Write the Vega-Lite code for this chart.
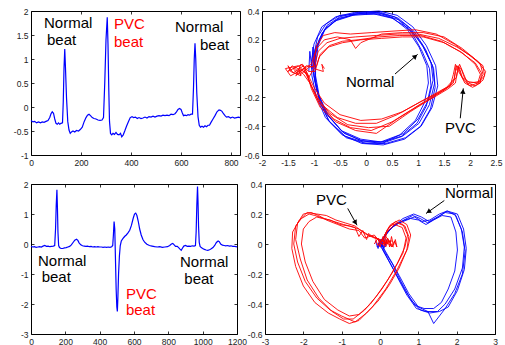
{
"$schema": "https://vega.github.io/schema/vega-lite/v6.json",
"padding": {"left": 12, "top": 6, "right": 0, "bottom": 0},
"config": {
 "view": {"stroke": "#000000", "strokeWidth": 1},
 "axis": {"grid": false, "domain": false, "tickSize": -3, "tickColor": "#000000", "tickWidth": 0.8, "labelFont": "Liberation Sans", "labelFontSize": 8.5, "labelColor": "#222222", "labelFlush": false, "labelOverlap": false},
 "axisLeft": {"labelPadding": 6},
 "axisBottom": {"labelPadding": 6},
 "text": {"font": "Liberation Sans", "fontSize": 15}
},
"datasets": {
 "ecg1": [{"x":0,"y":-0.28},{"x":8,"y":-0.31},{"x":15,"y":-0.3},{"x":22,"y":-0.33},{"x":30,"y":-0.31},{"x":38,"y":-0.33},{"x":45,"y":-0.31},{"x":52,"y":-0.32},{"x":60,"y":-0.3},{"x":68,"y":-0.28},{"x":75,"y":-0.22},{"x":80,"y":-0.14},{"x":85,"y":-0.1},{"x":90,"y":-0.13},{"x":95,"y":-0.25},{"x":100,"y":-0.34},{"x":105,"y":-0.36},{"x":110,"y":-0.33},{"x":115,"y":-0.36},{"x":120,"y":-0.34},{"x":126,"y":-0.33},{"x":129,"y":0.1},{"x":132,"y":0.8},{"x":135,"y":1.21},{"x":138,"y":0.8},{"x":142,"y":0.2},{"x":147,"y":-0.3},{"x":152,"y":-0.48},{"x":157,"y":-0.55},{"x":162,"y":-0.52},{"x":168,"y":-0.5},{"x":175,"y":-0.52},{"x":182,"y":-0.49},{"x":190,"y":-0.5},{"x":197,"y":-0.47},{"x":205,"y":-0.42},{"x":213,"y":-0.3},{"x":220,"y":-0.22},{"x":226,"y":-0.17},{"x":232,"y":-0.15},{"x":238,"y":-0.18},{"x":245,"y":-0.22},{"x":252,"y":-0.24},{"x":260,"y":-0.25},{"x":268,"y":-0.27},{"x":276,"y":-0.28},{"x":284,"y":-0.27},{"x":290,"y":-0.22},{"x":295,"y":0.5},{"x":300,"y":1.4},{"x":305,"y":1.87},{"x":308,"y":1.3},{"x":311,"y":0.4},{"x":314,"y":-0.3},{"x":318,"y":-0.55},{"x":323,"y":-0.58},{"x":328,"y":-0.55},{"x":334,"y":-0.57},{"x":340,"y":-0.53},{"x":346,"y":-0.57},{"x":352,"y":-0.58},{"x":358,"y":-0.55},{"x":363,"y":-0.62},{"x":369,"y":-0.58},{"x":375,"y":-0.5},{"x":382,"y":-0.4},{"x":390,"y":-0.3},{"x":397,"y":-0.22},{"x":404,"y":-0.2},{"x":410,"y":-0.22},{"x":418,"y":-0.21},{"x":425,"y":-0.24},{"x":432,"y":-0.22},{"x":440,"y":-0.24},{"x":448,"y":-0.23},{"x":456,"y":-0.21},{"x":464,"y":-0.23},{"x":472,"y":-0.2},{"x":480,"y":-0.21},{"x":488,"y":-0.19},{"x":496,"y":-0.21},{"x":504,"y":-0.19},{"x":512,"y":-0.18},{"x":520,"y":-0.19},{"x":528,"y":-0.17},{"x":536,"y":-0.18},{"x":544,"y":-0.17},{"x":552,"y":-0.18},{"x":560,"y":-0.15},{"x":568,"y":-0.16},{"x":576,"y":-0.14},{"x":582,"y":-0.1},{"x":588,"y":-0.05},{"x":594,"y":-0.03},{"x":600,"y":-0.05},{"x":605,"y":-0.12},{"x":610,"y":-0.18},{"x":616,"y":-0.17},{"x":622,"y":-0.18},{"x":628,"y":-0.16},{"x":634,"y":-0.17},{"x":640,"y":-0.15},{"x":646,"y":-0.15},{"x":650,"y":0.4},{"x":653,"y":1.0},{"x":656,"y":1.33},{"x":659,"y":1.0},{"x":663,"y":0.3},{"x":668,"y":-0.2},{"x":673,"y":-0.38},{"x":678,"y":-0.42},{"x":684,"y":-0.4},{"x":690,"y":-0.42},{"x":696,"y":-0.39},{"x":702,"y":-0.41},{"x":708,"y":-0.38},{"x":714,"y":-0.38},{"x":720,"y":-0.32},{"x":728,"y":-0.25},{"x":736,"y":-0.18},{"x":744,"y":-0.1},{"x":752,"y":-0.06},{"x":758,"y":-0.07},{"x":764,"y":-0.09},{"x":770,"y":-0.14},{"x":776,"y":-0.18},{"x":782,"y":-0.21},{"x":790,"y":-0.2},{"x":798,"y":-0.23},{"x":806,"y":-0.21},{"x":814,"y":-0.23},{"x":822,"y":-0.22},{"x":830,"y":-0.21},{"x":836,"y":-0.22}],
 "ecg2": [{"x":0,"y":-0.08},{"x":10,"y":-0.1},{"x":20,"y":-0.09},{"x":30,"y":-0.11},{"x":40,"y":-0.1},{"x":50,"y":-0.09},{"x":60,"y":-0.1},{"x":70,"y":-0.07},{"x":80,"y":-0.05},{"x":90,"y":-0.08},{"x":100,"y":-0.07},{"x":110,"y":-0.09},{"x":120,"y":-0.08},{"x":130,"y":-0.07},{"x":138,"y":-0.05},{"x":143,"y":0.5},{"x":147,"y":1.3},{"x":151,"y":1.81},{"x":154,"y":1.2},{"x":157,"y":0.4},{"x":161,"y":-0.05},{"x":166,"y":-0.12},{"x":175,"y":-0.15},{"x":185,"y":-0.15},{"x":195,"y":-0.13},{"x":205,"y":-0.12},{"x":215,"y":-0.1},{"x":225,"y":-0.08},{"x":235,"y":-0.03},{"x":245,"y":0.05},{"x":255,"y":0.13},{"x":265,"y":0.16},{"x":273,"y":0.12},{"x":280,"y":0.04},{"x":290,"y":-0.03},{"x":300,"y":-0.06},{"x":310,"y":-0.07},{"x":320,"y":-0.08},{"x":330,"y":-0.07},{"x":340,"y":-0.09},{"x":350,"y":-0.08},{"x":360,"y":-0.1},{"x":370,"y":-0.09},{"x":380,"y":-0.1},{"x":390,"y":-0.09},{"x":400,"y":-0.1},{"x":410,"y":-0.1},{"x":420,"y":-0.11},{"x":430,"y":-0.1},{"x":440,"y":-0.11},{"x":450,"y":-0.1},{"x":460,"y":-0.11},{"x":470,"y":-0.09},{"x":476,"y":-0.05},{"x":480,"y":0.3},{"x":484,"y":0.75},{"x":488,"y":0.5},{"x":492,"y":-0.5},{"x":496,"y":-1.5},{"x":500,"y":-2.1},{"x":503,"y":-2.25},{"x":506,"y":-1.8},{"x":510,"y":-1.0},{"x":515,"y":-0.4},{"x":520,"y":-0.05},{"x":526,"y":0.1},{"x":535,"y":0.18},{"x":545,"y":0.25},{"x":555,"y":0.3},{"x":565,"y":0.37},{"x":575,"y":0.46},{"x":585,"y":0.62},{"x":595,"y":0.85},{"x":603,"y":1.0},{"x":610,"y":1.03},{"x":617,"y":0.95},{"x":625,"y":0.75},{"x":633,"y":0.5},{"x":642,"y":0.3},{"x":652,"y":0.15},{"x":662,"y":0.06},{"x":675,"y":-0.01},{"x":690,"y":-0.05},{"x":705,"y":-0.07},{"x":720,"y":-0.09},{"x":735,"y":-0.1},{"x":750,"y":-0.09},{"x":765,"y":-0.11},{"x":780,"y":-0.1},{"x":795,"y":-0.09},{"x":808,"y":-0.05},{"x":818,"y":0.0},{"x":826,"y":0.02},{"x":834,"y":-0.03},{"x":842,"y":-0.08},{"x":852,"y":-0.08},{"x":860,"y":-0.12},{"x":868,"y":-0.17},{"x":875,"y":-0.21},{"x":882,"y":-0.14},{"x":890,"y":-0.07},{"x":900,"y":-0.05},{"x":910,"y":-0.08},{"x":920,"y":-0.07},{"x":930,"y":-0.08},{"x":940,"y":-0.06},{"x":950,"y":-0.07},{"x":958,"y":-0.05},{"x":962,"y":0.4},{"x":966,"y":1.3},{"x":970,"y":1.92},{"x":973,"y":1.4},{"x":976,"y":0.6},{"x":980,"y":0.05},{"x":985,"y":-0.08},{"x":992,"y":-0.12},{"x":1000,"y":-0.15},{"x":1010,"y":-0.18},{"x":1020,"y":-0.2},{"x":1030,"y":-0.21},{"x":1040,"y":-0.19},{"x":1050,"y":-0.16},{"x":1060,"y":-0.12},{"x":1070,"y":-0.05},{"x":1080,"y":0.05},{"x":1090,"y":0.1},{"x":1097,"y":0.08},{"x":1105,"y":0.0},{"x":1115,"y":-0.04},{"x":1125,"y":-0.05},{"x":1135,"y":-0.06},{"x":1145,"y":-0.05},{"x":1155,"y":-0.07},{"x":1165,"y":-0.06},{"x":1175,"y":-0.08},{"x":1185,"y":-0.08},{"x":1195,"y":-0.09},{"x":1200,"y":-0.1}],
 "pp1b": [
  {"k":"b0","x":-1.0,"y":0.02},{"k":"b0","x":-0.95,"y":0.15},{"k":"b0","x":-0.8,"y":0.27},{"k":"b0","x":-0.55,"y":0.34},{"k":"b0","x":-0.2,"y":0.38},{"k":"b0","x":0.2,"y":0.39},{"k":"b0","x":0.55,"y":0.36},{"k":"b0","x":0.85,"y":0.28},{"k":"b0","x":1.1,"y":0.15},{"k":"b0","x":1.28,"y":0.02},{"k":"b0","x":1.32,"y":-0.1},{"k":"b0","x":1.22,"y":-0.25},{"k":"b0","x":1.02,"y":-0.38},{"k":"b0","x":0.7,"y":-0.47},{"k":"b0","x":0.3,"y":-0.52},{"k":"b0","x":-0.1,"y":-0.5},{"k":"b0","x":-0.45,"y":-0.44},{"k":"b0","x":-0.75,"y":-0.32},{"k":"b0","x":-0.92,"y":-0.18},{"k":"b0","x":-1.0,"y":-0.05},{"k":"b0","x":-1.0,"y":0.02},
  {"k":"b1","x":-0.97,"y":0.03},{"k":"b1","x":-0.92,"y":0.16},{"k":"b1","x":-0.78,"y":0.28},{"k":"b1","x":-0.52,"y":0.35},{"k":"b1","x":-0.15,"y":0.38},{"k":"b1","x":0.22,"y":0.38},{"k":"b1","x":0.52,"y":0.35},{"k":"b1","x":0.8,"y":0.27},{"k":"b1","x":1.02,"y":0.15},{"k":"b1","x":1.17,"y":0.02},{"k":"b1","x":1.2,"y":-0.1},{"k":"b1","x":1.12,"y":-0.24},{"k":"b1","x":0.95,"y":-0.36},{"k":"b1","x":0.65,"y":-0.46},{"k":"b1","x":0.28,"y":-0.51},{"k":"b1","x":-0.08,"y":-0.5},{"k":"b1","x":-0.42,"y":-0.45},{"k":"b1","x":-0.72,"y":-0.33},{"k":"b1","x":-0.9,"y":-0.19},{"k":"b1","x":-0.97,"y":-0.05},{"k":"b1","x":-0.97,"y":0.03},
  {"k":"b2","x":-1.05,"y":0.05},{"k":"b2","x":-1.0,"y":0.17},{"k":"b2","x":-0.85,"y":0.29},{"k":"b2","x":-0.58,"y":0.36},{"k":"b2","x":-0.22,"y":0.39},{"k":"b2","x":0.25,"y":0.4},{"k":"b2","x":0.6,"y":0.37},{"k":"b2","x":0.9,"y":0.29},{"k":"b2","x":1.16,"y":0.16},{"k":"b2","x":1.34,"y":0.02},{"k":"b2","x":1.38,"y":-0.12},{"k":"b2","x":1.27,"y":-0.27},{"k":"b2","x":1.06,"y":-0.4},{"k":"b2","x":0.74,"y":-0.49},{"k":"b2","x":0.33,"y":-0.53},{"k":"b2","x":-0.08,"y":-0.52},{"k":"b2","x":-0.46,"y":-0.46},{"k":"b2","x":-0.78,"y":-0.34},{"k":"b2","x":-0.96,"y":-0.19},{"k":"b2","x":-1.04,"y":-0.05},{"k":"b2","x":-1.05,"y":0.05},
  {"k":"b3","x":-1.02,"y":0.0},{"k":"b3","x":-0.98,"y":0.13},{"k":"b3","x":-0.84,"y":0.25},{"k":"b3","x":-0.6,"y":0.33},{"k":"b3","x":-0.25,"y":0.37},{"k":"b3","x":0.15,"y":0.38},{"k":"b3","x":0.5,"y":0.35},{"k":"b3","x":0.82,"y":0.28},{"k":"b3","x":1.08,"y":0.17},{"k":"b3","x":1.25,"y":0.04},{"k":"b3","x":1.29,"y":-0.08},{"k":"b3","x":1.2,"y":-0.22},{"k":"b3","x":1.0,"y":-0.35},{"k":"b3","x":0.72,"y":-0.45},{"k":"b3","x":0.35,"y":-0.51},{"k":"b3","x":-0.05,"y":-0.51},{"k":"b3","x":-0.4,"y":-0.47},{"k":"b3","x":-0.72,"y":-0.36},{"k":"b3","x":-0.9,"y":-0.22},{"k":"b3","x":-0.99,"y":-0.08},{"k":"b3","x":-1.02,"y":0.0},
  {"k":"b4","x":-0.98,"y":0.08},{"k":"b4","x":-0.9,"y":0.2},{"k":"b4","x":-0.75,"y":0.3},{"k":"b4","x":-0.5,"y":0.36},{"k":"b4","x":-0.15,"y":0.39},{"k":"b4","x":0.28,"y":0.39},{"k":"b4","x":0.62,"y":0.35},{"k":"b4","x":0.92,"y":0.26},{"k":"b4","x":1.15,"y":0.13},{"k":"b4","x":1.3,"y":0.0},{"k":"b4","x":1.33,"y":-0.13},{"k":"b4","x":1.24,"y":-0.28},{"k":"b4","x":1.05,"y":-0.4},{"k":"b4","x":0.76,"y":-0.48},{"k":"b4","x":0.38,"y":-0.52},{"k":"b4","x":0.0,"y":-0.52},{"k":"b4","x":-0.38,"y":-0.48},{"k":"b4","x":-0.7,"y":-0.37},{"k":"b4","x":-0.88,"y":-0.24},{"k":"b4","x":-0.97,"y":-0.08},{"k":"b4","x":-0.98,"y":0.08},
  {"k":"b5","x":-1.0,"y":0.1},{"k":"b5","x":-0.93,"y":0.22},{"k":"b5","x":-0.77,"y":0.31},{"k":"b5","x":-0.5,"y":0.37},{"k":"b5","x":-0.1,"y":0.38},{"k":"b5","x":0.3,"y":0.38},{"k":"b5","x":0.62,"y":0.34},{"k":"b5","x":0.88,"y":0.25},{"k":"b5","x":1.08,"y":0.12},{"k":"b5","x":1.22,"y":0.0},{"k":"b5","x":1.25,"y":-0.12},{"k":"b5","x":1.16,"y":-0.26},{"k":"b5","x":0.98,"y":-0.38},{"k":"b5","x":0.68,"y":-0.47},{"k":"b5","x":0.3,"y":-0.51},{"k":"b5","x":-0.1,"y":-0.49},{"k":"b5","x":-0.48,"y":-0.43},{"k":"b5","x":-0.78,"y":-0.3},{"k":"b5","x":-0.95,"y":-0.15},{"k":"b5","x":-1.02,"y":0.0},{"k":"b5","x":-1.0,"y":0.1},
  {"k":"bj","x":-1.1,"y":-0.02},{"k":"bj","x":-1.08,"y":0.12},{"k":"bj","x":-1.04,"y":0.0},{"k":"bj","x":-1.02,"y":0.15},{"k":"bj","x":-0.99,"y":0.02},{"k":"bj","x":-0.97,"y":0.13}
 ],
 "pp1r": [
  {"k":"r0","x":-0.8,"y":0.0},{"k":"r0","x":-0.85,"y":0.03},{"k":"r0","x":-0.82,"y":-0.02},{"k":"r0","x":-1.0,"y":0.0},{"k":"r0","x":-0.92,"y":0.12},{"k":"r0","x":-0.75,"y":0.18},{"k":"r0","x":-0.5,"y":0.21},{"k":"r0","x":-0.2,"y":0.22},{"k":"r0","x":0.2,"y":0.23},{"k":"r0","x":0.6,"y":0.24},{"k":"r0","x":1.0,"y":0.24},{"k":"r0","x":1.4,"y":0.21},{"k":"r0","x":1.75,"y":0.15},{"k":"r0","x":2.05,"y":0.08},{"k":"r0","x":2.25,"y":0.02},{"k":"r0","x":2.28,"y":-0.05},{"k":"r0","x":2.15,"y":-0.1},{"k":"r0","x":1.95,"y":-0.09},{"k":"r0","x":1.85,"y":-0.06},{"k":"r0","x":1.8,"y":0.0},{"k":"r0","x":1.73,"y":0.02},{"k":"r0","x":1.7,"y":-0.07},{"k":"r0","x":1.55,"y":-0.13},{"k":"r0","x":1.3,"y":-0.18},{"k":"r0","x":0.95,"y":-0.25},{"k":"r0","x":0.6,"y":-0.32},{"k":"r0","x":0.2,"y":-0.38},{"k":"r0","x":-0.2,"y":-0.38},{"k":"r0","x":-0.55,"y":-0.34},{"k":"r0","x":-0.85,"y":-0.25},{"k":"r0","x":-1.05,"y":-0.12},{"k":"r0","x":-1.15,"y":-0.03},{"k":"r0","x":-1.3,"y":0.0},{"k":"r0","x":-1.25,"y":-0.05},{"k":"r0","x":-1.45,"y":-0.02},{"k":"r0","x":-1.5,"y":0.02},{"k":"r0","x":-1.4,"y":-0.03},{"k":"r0","x":-1.2,"y":0.02},{"k":"r0","x":-1.1,"y":-0.06},{"k":"r0","x":-1.0,"y":0.0},
  {"k":"r1","x":-0.95,"y":0.02},{"k":"r1","x":-0.88,"y":0.1},{"k":"r1","x":-0.7,"y":0.16},{"k":"r1","x":-0.45,"y":0.19},{"k":"r1","x":-0.15,"y":0.2},{"k":"r1","x":0.25,"y":0.22},{"k":"r1","x":0.65,"y":0.23},{"k":"r1","x":1.05,"y":0.23},{"k":"r1","x":1.45,"y":0.19},{"k":"r1","x":1.8,"y":0.12},{"k":"r1","x":2.1,"y":0.04},{"k":"r1","x":2.22,"y":-0.03},{"k":"r1","x":2.2,"y":-0.1},{"k":"r1","x":2.05,"y":-0.13},{"k":"r1","x":1.9,"y":-0.1},{"k":"r1","x":1.82,"y":-0.04},{"k":"r1","x":1.77,"y":0.02},{"k":"r1","x":1.72,"y":-0.02},{"k":"r1","x":1.68,"y":-0.1},{"k":"r1","x":1.5,"y":-0.15},{"k":"r1","x":1.25,"y":-0.2},{"k":"r1","x":0.9,"y":-0.28},{"k":"r1","x":0.5,"y":-0.37},{"k":"r1","x":0.1,"y":-0.43},{"k":"r1","x":-0.3,"y":-0.41},{"k":"r1","x":-0.62,"y":-0.35},{"k":"r1","x":-0.9,"y":-0.24},{"k":"r1","x":-1.08,"y":-0.1},{"k":"r1","x":-1.2,"y":-0.04},{"k":"r1","x":-1.35,"y":0.01},{"k":"r1","x":-1.5,"y":-0.02},{"k":"r1","x":-1.42,"y":0.02},{"k":"r1","x":-1.25,"y":-0.04},{"k":"r1","x":-1.1,"y":0.01},{"k":"r1","x":-0.95,"y":0.02},
  {"k":"r2","x":-1.05,"y":0.03},{"k":"r2","x":-0.95,"y":0.14},{"k":"r2","x":-0.8,"y":0.2},{"k":"r2","x":-0.55,"y":0.22},{"k":"r2","x":-0.3,"y":0.2},{"k":"r2","x":-0.2,"y":0.14},{"k":"r2","x":-0.1,"y":0.18},{"k":"r2","x":0.3,"y":0.24},{"k":"r2","x":0.7,"y":0.25},{"k":"r2","x":1.1,"y":0.25},{"k":"r2","x":1.5,"y":0.22},{"k":"r2","x":1.85,"y":0.14},{"k":"r2","x":2.15,"y":0.05},{"k":"r2","x":2.3,"y":-0.02},{"k":"r2","x":2.25,"y":-0.08},{"k":"r2","x":2.1,"y":-0.12},{"k":"r2","x":1.95,"y":-0.1},{"k":"r2","x":1.88,"y":-0.04},{"k":"r2","x":1.8,"y":0.03},{"k":"r2","x":1.75,"y":-0.03},{"k":"r2","x":1.72,"y":-0.1},{"k":"r2","x":1.58,"y":-0.14},{"k":"r2","x":1.35,"y":-0.19},{"k":"r2","x":1.0,"y":-0.26},{"k":"r2","x":0.6,"y":-0.35},{"k":"r2","x":0.2,"y":-0.45},{"k":"r2","x":-0.2,"y":-0.43},{"k":"r2","x":-0.58,"y":-0.37},{"k":"r2","x":-0.88,"y":-0.27},{"k":"r2","x":-1.05,"y":-0.14},{"k":"r2","x":-1.12,"y":-0.05},{"k":"r2","x":-1.3,"y":0.02},{"k":"r2","x":-1.55,"y":0.0},{"k":"r2","x":-1.45,"y":-0.05},{"k":"r2","x":-1.3,"y":-0.02},{"k":"r2","x":-1.05,"y":0.03},
  {"k":"r3","x":-0.98,"y":-0.02},{"k":"r3","x":-0.9,"y":0.08},{"k":"r3","x":-0.72,"y":0.15},{"k":"r3","x":-0.45,"y":0.18},{"k":"r3","x":-0.1,"y":0.2},{"k":"r3","x":0.3,"y":0.21},{"k":"r3","x":0.7,"y":0.22},{"k":"r3","x":1.1,"y":0.22},{"k":"r3","x":1.5,"y":0.18},{"k":"r3","x":1.85,"y":0.11},{"k":"r3","x":2.1,"y":0.03},{"k":"r3","x":2.2,"y":-0.04},{"k":"r3","x":2.15,"y":-0.1},{"k":"r3","x":2.0,"y":-0.12},{"k":"r3","x":1.88,"y":-0.08},{"k":"r3","x":1.78,"y":-0.02},{"k":"r3","x":1.72,"y":0.03},{"k":"r3","x":1.68,"y":-0.04},{"k":"r3","x":1.62,"y":-0.12},{"k":"r3","x":1.45,"y":-0.16},{"k":"r3","x":1.2,"y":-0.22},{"k":"r3","x":0.85,"y":-0.3},{"k":"r3","x":0.45,"y":-0.4},{"k":"r3","x":0.05,"y":-0.41},{"k":"r3","x":-0.35,"y":-0.39},{"k":"r3","x":-0.7,"y":-0.31},{"k":"r3","x":-0.95,"y":-0.2},{"k":"r3","x":-1.1,"y":-0.08},{"k":"r3","x":-1.2,"y":0.0},{"k":"r3","x":-1.35,"y":-0.05},{"k":"r3","x":-1.25,"y":0.03},{"k":"r3","x":-1.1,"y":-0.02},{"k":"r3","x":-0.98,"y":-0.02},
  {"k":"r4","x":-1.02,"y":0.01},{"k":"r4","x":-0.95,"y":0.16},{"k":"r4","x":-0.82,"y":0.23},{"k":"r4","x":-0.6,"y":0.25},{"k":"r4","x":-0.3,"y":0.24},{"k":"r4","x":0.1,"y":0.25},{"k":"r4","x":0.5,"y":0.26},{"k":"r4","x":0.95,"y":0.27},{"k":"r4","x":1.35,"y":0.24},{"k":"r4","x":1.7,"y":0.17},{"k":"r4","x":2.0,"y":0.09},{"k":"r4","x":2.2,"y":0.03},{"k":"r4","x":2.25,"y":-0.04},{"k":"r4","x":2.18,"y":-0.09},{"k":"r4","x":2.0,"y":-0.1},{"k":"r4","x":1.9,"y":-0.07},{"k":"r4","x":1.83,"y":0.0},{"k":"r4","x":1.78,"y":0.01},{"k":"r4","x":1.74,"y":-0.06},{"k":"r4","x":1.6,"y":-0.12},{"k":"r4","x":1.38,"y":-0.17},{"k":"r4","x":1.05,"y":-0.23},{"k":"r4","x":0.7,"y":-0.3},{"k":"r4","x":0.3,"y":-0.35},{"k":"r4","x":-0.1,"y":-0.36},{"k":"r4","x":-0.5,"y":-0.32},{"k":"r4","x":-0.8,"y":-0.24},{"k":"r4","x":-1.0,"y":-0.13},{"k":"r4","x":-1.12,"y":-0.04},{"k":"r4","x":-1.22,"y":0.03},{"k":"r4","x":-1.4,"y":0.0},{"k":"r4","x":-1.3,"y":-0.04},{"k":"r4","x":-1.15,"y":0.02},{"k":"r4","x":-1.02,"y":0.01}
 ],
 "pp2b": [
  {"k":"a0","x":0.0,"y":0.0},{"k":"a0","x":0.15,"y":0.06},{"k":"a0","x":0.3,"y":0.11},{"k":"a0","x":0.55,"y":0.15},{"k":"a0","x":0.85,"y":0.19},{"k":"a0","x":1.05,"y":0.17},{"k":"a0","x":1.25,"y":0.14},{"k":"a0","x":1.45,"y":0.17},{"k":"a0","x":1.7,"y":0.21},{"k":"a0","x":1.95,"y":0.2},{"k":"a0","x":2.12,"y":0.1},{"k":"a0","x":2.2,"y":-0.02},{"k":"a0","x":2.15,"y":-0.16},{"k":"a0","x":1.95,"y":-0.3},{"k":"a0","x":1.7,"y":-0.4},{"k":"a0","x":1.5,"y":-0.45},{"k":"a0","x":1.2,"y":-0.45},{"k":"a0","x":0.95,"y":-0.43},{"k":"a0","x":0.7,"y":-0.34},{"k":"a0","x":0.45,"y":-0.22},{"k":"a0","x":0.25,"y":-0.12},{"k":"a0","x":0.08,"y":-0.04},{"k":"a0","x":0.0,"y":0.0},
  {"k":"a1","x":0.05,"y":0.02},{"k":"a1","x":0.2,"y":0.08},{"k":"a1","x":0.4,"y":0.13},{"k":"a1","x":0.65,"y":0.16},{"k":"a1","x":0.9,"y":0.18},{"k":"a1","x":1.1,"y":0.15},{"k":"a1","x":1.3,"y":0.16},{"k":"a1","x":1.55,"y":0.2},{"k":"a1","x":1.75,"y":0.22},{"k":"a1","x":1.98,"y":0.19},{"k":"a1","x":2.15,"y":0.08},{"k":"a1","x":2.22,"y":-0.05},{"k":"a1","x":2.15,"y":-0.2},{"k":"a1","x":1.95,"y":-0.33},{"k":"a1","x":1.7,"y":-0.43},{"k":"a1","x":1.4,"y":-0.53},{"k":"a1","x":1.25,"y":-0.45},{"k":"a1","x":1.0,"y":-0.42},{"k":"a1","x":0.75,"y":-0.33},{"k":"a1","x":0.5,"y":-0.21},{"k":"a1","x":0.28,"y":-0.11},{"k":"a1","x":0.1,"y":-0.03},{"k":"a1","x":0.05,"y":0.02},
  {"k":"a2","x":-0.05,"y":0.0},{"k":"a2","x":0.1,"y":0.05},{"k":"a2","x":0.25,"y":0.1},{"k":"a2","x":0.5,"y":0.14},{"k":"a2","x":0.8,"y":0.17},{"k":"a2","x":1.0,"y":0.16},{"k":"a2","x":1.2,"y":0.13},{"k":"a2","x":1.4,"y":0.16},{"k":"a2","x":1.62,"y":0.19},{"k":"a2","x":1.85,"y":0.18},{"k":"a2","x":1.98,"y":0.08},{"k":"a2","x":2.02,"y":-0.04},{"k":"a2","x":1.95,"y":-0.18},{"k":"a2","x":1.78,"y":-0.3},{"k":"a2","x":1.6,"y":-0.39},{"k":"a2","x":1.4,"y":-0.43},{"k":"a2","x":1.15,"y":-0.43},{"k":"a2","x":0.92,"y":-0.41},{"k":"a2","x":0.68,"y":-0.32},{"k":"a2","x":0.42,"y":-0.2},{"k":"a2","x":0.2,"y":-0.1},{"k":"a2","x":0.05,"y":-0.03},{"k":"a2","x":-0.05,"y":0.0},
  {"k":"a3","x":0.02,"y":0.01},{"k":"a3","x":0.18,"y":0.07},{"k":"a3","x":0.35,"y":0.12},{"k":"a3","x":0.6,"y":0.17},{"k":"a3","x":0.88,"y":0.2},{"k":"a3","x":1.08,"y":0.18},{"k":"a3","x":1.28,"y":0.15},{"k":"a3","x":1.5,"y":0.18},{"k":"a3","x":1.75,"y":0.22},{"k":"a3","x":2.02,"y":0.2},{"k":"a3","x":2.18,"y":0.1},{"k":"a3","x":2.25,"y":-0.03},{"k":"a3","x":2.2,"y":-0.17},{"k":"a3","x":2.02,"y":-0.31},{"k":"a3","x":1.78,"y":-0.42},{"k":"a3","x":1.55,"y":-0.45},{"k":"a3","x":1.3,"y":-0.46},{"k":"a3","x":1.05,"y":-0.44},{"k":"a3","x":0.8,"y":-0.37},{"k":"a3","x":0.55,"y":-0.25},{"k":"a3","x":0.32,"y":-0.13},{"k":"a3","x":0.12,"y":-0.05},{"k":"a3","x":0.02,"y":0.01},
  {"k":"aj","x":-0.12,"y":0.02},{"k":"aj","x":-0.05,"y":-0.03},{"k":"aj","x":0.0,"y":0.03},{"k":"aj","x":0.05,"y":-0.02},{"k":"aj","x":0.1,"y":0.04},{"k":"aj","x":0.15,"y":-0.01},{"k":"aj","x":0.18,"y":0.03},{"k":"aj","x":0.1,"y":-0.03},{"k":"aj","x":0.02,"y":0.02},{"k":"aj","x":-0.08,"y":-0.02}
 ],
 "pp2r": [
  {"k":"c0","x":0.2,"y":0.0},{"k":"c0","x":0.0,"y":0.03},{"k":"c0","x":-0.2,"y":0.05},{"k":"c0","x":-0.3,"y":0.07},{"k":"c0","x":-0.35,"y":0.03},{"k":"c0","x":-0.45,"y":0.09},{"k":"c0","x":-0.55,"y":0.05},{"k":"c0","x":-0.65,"y":0.11},{"k":"c0","x":-0.95,"y":0.13},{"k":"c0","x":-1.2,"y":0.15},{"k":"c0","x":-1.45,"y":0.17},{"k":"c0","x":-1.7,"y":0.19},{"k":"c0","x":-1.85,"y":0.2},{"k":"c0","x":-2.05,"y":0.17},{"k":"c0","x":-2.2,"y":0.12},{"k":"c0","x":-2.25,"y":0.0},{"k":"c0","x":-2.15,"y":-0.12},{"k":"c0","x":-1.95,"y":-0.25},{"k":"c0","x":-1.65,"y":-0.36},{"k":"c0","x":-1.3,"y":-0.44},{"k":"c0","x":-1.0,"y":-0.48},{"k":"c0","x":-0.65,"y":-0.52},{"k":"c0","x":-0.35,"y":-0.46},{"k":"c0","x":-0.05,"y":-0.38},{"k":"c0","x":0.25,"y":-0.27},{"k":"c0","x":0.5,"y":-0.16},{"k":"c0","x":0.7,"y":-0.04},{"k":"c0","x":0.75,"y":0.05},{"k":"c0","x":0.65,"y":0.12},{"k":"c0","x":0.45,"y":0.14},{"k":"c0","x":0.25,"y":0.12},{"k":"c0","x":0.1,"y":0.05},{"k":"c0","x":0.2,"y":0.0},
  {"k":"c1","x":0.3,"y":0.02},{"k":"c1","x":0.05,"y":0.0},{"k":"c1","x":-0.15,"y":0.06},{"k":"c1","x":-0.4,"y":0.04},{"k":"c1","x":-0.55,"y":0.09},{"k":"c1","x":-0.8,"y":0.1},{"k":"c1","x":-1.1,"y":0.13},{"k":"c1","x":-1.4,"y":0.16},{"k":"c1","x":-1.6,"y":0.19},{"k":"c1","x":-1.8,"y":0.21},{"k":"c1","x":-2.0,"y":0.2},{"k":"c1","x":-2.15,"y":0.14},{"k":"c1","x":-2.2,"y":0.03},{"k":"c1","x":-2.08,"y":-0.1},{"k":"c1","x":-1.9,"y":-0.24},{"k":"c1","x":-1.6,"y":-0.36},{"k":"c1","x":-1.25,"y":-0.45},{"k":"c1","x":-0.95,"y":-0.5},{"k":"c1","x":-0.7,"y":-0.5},{"k":"c1","x":-0.4,"y":-0.44},{"k":"c1","x":-0.1,"y":-0.35},{"k":"c1","x":0.2,"y":-0.24},{"k":"c1","x":0.45,"y":-0.13},{"k":"c1","x":0.65,"y":-0.02},{"k":"c1","x":0.72,"y":0.06},{"k":"c1","x":0.6,"y":0.13},{"k":"c1","x":0.4,"y":0.15},{"k":"c1","x":0.2,"y":0.1},{"k":"c1","x":0.05,"y":0.02},{"k":"c1","x":0.3,"y":0.02},
  {"k":"c2","x":0.1,"y":-0.01},{"k":"c2","x":-0.1,"y":0.04},{"k":"c2","x":-0.3,"y":0.06},{"k":"c2","x":-0.55,"y":0.1},{"k":"c2","x":-0.8,"y":0.12},{"k":"c2","x":-1.05,"y":0.13},{"k":"c2","x":-1.3,"y":0.16},{"k":"c2","x":-1.5,"y":0.17},{"k":"c2","x":-1.65,"y":0.18},{"k":"c2","x":-1.85,"y":0.15},{"k":"c2","x":-2.0,"y":0.1},{"k":"c2","x":-2.05,"y":0.0},{"k":"c2","x":-1.95,"y":-0.12},{"k":"c2","x":-1.75,"y":-0.25},{"k":"c2","x":-1.45,"y":-0.37},{"k":"c2","x":-1.1,"y":-0.44},{"k":"c2","x":-0.8,"y":-0.48},{"k":"c2","x":-0.55,"y":-0.47},{"k":"c2","x":-0.25,"y":-0.4},{"k":"c2","x":0.05,"y":-0.3},{"k":"c2","x":0.35,"y":-0.18},{"k":"c2","x":0.6,"y":-0.06},{"k":"c2","x":0.68,"y":0.04},{"k":"c2","x":0.58,"y":0.11},{"k":"c2","x":0.38,"y":0.13},{"k":"c2","x":0.18,"y":0.08},{"k":"c2","x":0.1,"y":-0.01},
  {"k":"c3","x":0.35,"y":-0.02},{"k":"c3","x":0.1,"y":0.02},{"k":"c3","x":-0.15,"y":0.04},{"k":"c3","x":-0.4,"y":0.07},{"k":"c3","x":-0.65,"y":0.12},{"k":"c3","x":-0.9,"y":0.14},{"k":"c3","x":-1.15,"y":0.16},{"k":"c3","x":-1.4,"y":0.19},{"k":"c3","x":-1.65,"y":0.2},{"k":"c3","x":-1.9,"y":0.21},{"k":"c3","x":-2.1,"y":0.16},{"k":"c3","x":-2.28,"y":0.08},{"k":"c3","x":-2.3,"y":-0.03},{"k":"c3","x":-2.2,"y":-0.15},{"k":"c3","x":-2.0,"y":-0.28},{"k":"c3","x":-1.7,"y":-0.39},{"k":"c3","x":-1.35,"y":-0.46},{"k":"c3","x":-1.05,"y":-0.5},{"k":"c3","x":-0.8,"y":-0.53},{"k":"c3","x":-0.55,"y":-0.51},{"k":"c3","x":-0.2,"y":-0.42},{"k":"c3","x":0.15,"y":-0.3},{"k":"c3","x":0.45,"y":-0.17},{"k":"c3","x":0.72,"y":-0.03},{"k":"c3","x":0.8,"y":0.06},{"k":"c3","x":0.7,"y":0.13},{"k":"c3","x":0.5,"y":0.16},{"k":"c3","x":0.28,"y":0.13},{"k":"c3","x":0.12,"y":0.06},{"k":"c3","x":0.35,"y":-0.02},
  {"k":"cj","x":-0.15,"y":0.0},{"k":"cj","x":-0.05,"y":0.04},{"k":"cj","x":0.0,"y":-0.02},{"k":"cj","x":0.08,"y":0.05},{"k":"cj","x":0.12,"y":-0.01},{"k":"cj","x":0.2,"y":0.04},{"k":"cj","x":0.25,"y":-0.02},{"k":"cj","x":0.3,"y":0.05},{"k":"cj","x":0.35,"y":-0.01},{"k":"cj","x":0.4,"y":0.03},{"k":"cj","x":0.44,"y":-0.02},{"k":"cj","x":0.38,"y":0.02},{"k":"cj","x":0.3,"y":-0.02},{"k":"cj","x":0.22,"y":0.03},{"k":"cj","x":0.15,"y":-0.02},{"k":"cj","x":0.05,"y":0.03},{"k":"cj","x":-0.05,"y":-0.01},{"k":"cj","x":-0.12,"y":0.03}
 ],
 "ann": [
  {"p":"tl","t":"Normal","x":52,"y":1.646,"c":"k"},{"p":"tl","t":"beat","x":64,"y":1.29,"c":"k"},
  {"p":"tl","t":"PVC","x":332,"y":1.625,"c":"r"},{"p":"tl","t":"beat","x":332,"y":1.25,"c":"r"},
  {"p":"tl","t":"Normal","x":576,"y":1.556,"c":"k"},{"p":"tl","t":"beat","x":676,"y":1.19,"c":"k"},
  {"p":"tr","t":"Normal","x":-0.385,"y":-0.128,"c":"k"},{"p":"tr","t":"PVC","x":1.519,"y":-0.449,"c":"k"},
  {"p":"bl","t":"Normal","x":41,"y":-0.733,"c":"k"},{"p":"bl","t":"beat","x":62,"y":-1.267,"c":"k"},
  {"p":"bl","t":"PVC","x":553,"y":-1.82,"c":"r"},{"p":"bl","t":"beat","x":553,"y":-2.36,"c":"r"},
  {"p":"bl","t":"Normal","x":868,"y":-0.767,"c":"k"},{"p":"bl","t":"beat","x":893,"y":-1.32,"c":"k"},
  {"p":"br","t":"PVC","x":-1.67,"y":0.259,"c":"k"},{"p":"br","t":"Normal","x":1.696,"y":0.308,"c":"k"}
 ],
 "arr": [
  {"p":"tr","a":"n","x":0.558,"y":-0.0375,"x2":0.994,"y2":0.099,"hx":0.95,"hy":0.085},
  {"p":"tr","a":"p","x":1.813,"y":-0.345,"x2":1.871,"y2":-0.137,"hx":1.865,"hy":-0.158},
  {"p":"br","a":"p","x":-0.842,"y":0.237,"x2":-0.6,"y2":0.125,"hx":-0.639,"hy":0.142},
  {"p":"br","a":"n","x":1.678,"y":0.29,"x2":1.2,"y2":0.203,"hx":1.263,"hy":0.215}
 ]
},
"spacing": 12,
"vconcat": [
 {"bounds": "flush", "spacing": 22, "hconcat": [
  {"width": 209, "height": 144,
   "layer": [
    {"data": {"name": "ecg1"}, "mark": {"type": "line", "color": "#0000ff", "strokeWidth": 1.2},
     "encoding": {
      "x": {"field": "x", "type": "quantitative", "scale": {"domain": [0, 836], "nice": false, "zero": false}, "axis": {"title": null, "orient": "bottom", "values": [0,200,400,600,800], "labelExpr": "toString(datum.value)"}},
      "y": {"field": "y", "type": "quantitative", "scale": {"domain": [-1, 2], "nice": false, "zero": false}, "axis": {"title": null, "orient": "left", "values": [-1,-0.5,0,0.5,1,1.5,2], "labelExpr": "toString(datum.value)"}}}},
    {"data": {"name": "ann"}, "transform": [{"filter": "datum.p == 'tl'"}], "mark": {"type": "text", "align": "left", "baseline": "alphabetic"},
     "encoding": {
      "x": {"field": "x", "type": "quantitative", "axis": {"title": null, "orient": "top", "labels": false, "values": [0,200,400,600,800]}},
      "y": {"field": "y", "type": "quantitative", "axis": {"title": null, "orient": "right", "labels": false, "values": [-1,-0.5,0,0.5,1,1.5,2]}},
      "text": {"field": "t"},
      "color": {"field": "c", "type": "nominal", "scale": {"domain": ["k","r"], "range": ["#000000","#ff0000"]}, "legend": null}}}
   ],
   "resolve": {"axis": {"x": "independent", "y": "independent"}}},
  {"width": 234, "height": 144,
   "layer": [
    {"data": {"name": "pp1b"}, "mark": {"type": "line", "color": "#0000ff", "strokeWidth": 0.9},
     "encoding": {
      "x": {"field": "x", "type": "quantitative", "scale": {"domain": [-2, 2.5], "nice": false, "zero": false}, "axis": {"title": null, "orient": "bottom", "values": [-2,-1.5,-1,-0.5,0,0.5,1,1.5,2,2.5], "labelExpr": "toString(datum.value)"}},
      "y": {"field": "y", "type": "quantitative", "scale": {"domain": [-0.6, 0.4], "nice": false, "zero": false}, "axis": {"title": null, "orient": "left", "values": [-0.6,-0.4,-0.2,0,0.2,0.4], "labelExpr": "toString(datum.value)"}},
      "detail": {"field": "k"}, "order": {"value": null}}},
    {"data": {"name": "pp1r"}, "mark": {"type": "line", "color": "#ff0000", "strokeWidth": 0.9},
     "encoding": {
      "x": {"field": "x", "type": "quantitative", "axis": null},
      "y": {"field": "y", "type": "quantitative", "axis": null},
      "detail": {"field": "k"}, "order": {"value": null}}},
    {"data": {"name": "ann"}, "transform": [{"filter": "datum.p == 'tr'"}], "mark": {"type": "text", "align": "left", "baseline": "alphabetic", "color": "#000000"},
     "encoding": {
      "x": {"field": "x", "type": "quantitative", "axis": {"title": null, "orient": "top", "labels": false, "values": [-2,-1.5,-1,-0.5,0,0.5,1,1.5,2,2.5]}},
      "y": {"field": "y", "type": "quantitative", "axis": {"title": null, "orient": "right", "labels": false, "values": [-0.6,-0.4,-0.2,0,0.2,0.4]}},
      "text": {"field": "t"}}},
    {"data": {"name": "arr"}, "transform": [{"filter": "datum.p == 'tr'"}], "mark": {"type": "rule", "color": "#000000", "strokeWidth": 1},
     "encoding": {"x": {"field": "x", "type": "quantitative", "axis": null}, "y": {"field": "y", "type": "quantitative", "axis": null}, "x2": {"field": "x2"}, "y2": {"field": "y2"}}},
    {"data": {"name": "arr"}, "transform": [{"filter": "datum.p == 'tr' && datum.a == 'n'"}], "mark": {"type": "point", "shape": "triangle-up", "filled": true, "color": "#000000", "opacity": 1, "size": 30, "angle": 49},
     "encoding": {"x": {"field": "hx", "type": "quantitative", "axis": null}, "y": {"field": "hy", "type": "quantitative", "axis": null}}},
    {"data": {"name": "arr"}, "transform": [{"filter": "datum.p == 'tr' && datum.a == 'p'"}], "mark": {"type": "point", "shape": "triangle-up", "filled": true, "color": "#000000", "opacity": 1, "size": 30, "angle": 6},
     "encoding": {"x": {"field": "hx", "type": "quantitative", "axis": null}, "y": {"field": "hy", "type": "quantitative", "axis": null}}}
   ],
   "resolve": {"axis": {"x": "independent", "y": "independent"}}}
 ]},
 {"bounds": "flush", "spacing": 28, "hconcat": [
  {"width": 206, "height": 150,
   "layer": [
    {"data": {"name": "ecg2"}, "mark": {"type": "line", "color": "#0000ff", "strokeWidth": 1.2},
     "encoding": {
      "x": {"field": "x", "type": "quantitative", "scale": {"domain": [0, 1200], "nice": false, "zero": false}, "axis": {"title": null, "orient": "bottom", "values": [0,200,400,600,800,1000,1200], "labelExpr": "toString(datum.value)"}},
      "y": {"field": "y", "type": "quantitative", "scale": {"domain": [-3, 2], "nice": false, "zero": false}, "axis": {"title": null, "orient": "left", "values": [-3,-2,-1,0,1,2], "labelExpr": "toString(datum.value)"}}}},
    {"data": {"name": "ann"}, "transform": [{"filter": "datum.p == 'bl'"}], "mark": {"type": "text", "align": "left", "baseline": "alphabetic"},
     "encoding": {
      "x": {"field": "x", "type": "quantitative", "axis": {"title": null, "orient": "top", "labels": false, "values": [0,200,400,600,800,1000,1200]}},
      "y": {"field": "y", "type": "quantitative", "axis": {"title": null, "orient": "right", "labels": false, "values": [-3,-2,-1,0,1,2]}},
      "text": {"field": "t"},
      "color": {"field": "c", "type": "nominal", "scale": {"domain": ["k","r"], "range": ["#000000","#ff0000"]}, "legend": null}}}
   ],
   "resolve": {"axis": {"x": "independent", "y": "independent"}}},
  {"width": 230, "height": 150,
   "layer": [
    {"data": {"name": "pp2b"}, "mark": {"type": "line", "color": "#0000ff", "strokeWidth": 0.9},
     "encoding": {
      "x": {"field": "x", "type": "quantitative", "scale": {"domain": [-3, 3], "nice": false, "zero": false}, "axis": {"title": null, "orient": "bottom", "values": [-3,-2,-1,0,1,2,3], "labelExpr": "toString(datum.value)"}},
      "y": {"field": "y", "type": "quantitative", "scale": {"domain": [-0.6, 0.4], "nice": false, "zero": false}, "axis": {"title": null, "orient": "left", "values": [-0.6,-0.4,-0.2,0,0.2,0.4], "labelExpr": "toString(datum.value)"}},
      "detail": {"field": "k"}, "order": {"value": null}}},
    {"data": {"name": "pp2r"}, "mark": {"type": "line", "color": "#ff0000", "strokeWidth": 0.9},
     "encoding": {
      "x": {"field": "x", "type": "quantitative", "axis": null},
      "y": {"field": "y", "type": "quantitative", "axis": null},
      "detail": {"field": "k"}, "order": {"value": null}}},
    {"data": {"name": "ann"}, "transform": [{"filter": "datum.p == 'br'"}], "mark": {"type": "text", "align": "left", "baseline": "alphabetic", "color": "#000000"},
     "encoding": {
      "x": {"field": "x", "type": "quantitative", "axis": {"title": null, "orient": "top", "labels": false, "values": [-3,-2,-1,0,1,2,3]}},
      "y": {"field": "y", "type": "quantitative", "axis": {"title": null, "orient": "right", "labels": false, "values": [-0.6,-0.4,-0.2,0,0.2,0.4]}},
      "text": {"field": "t"}}},
    {"data": {"name": "arr"}, "transform": [{"filter": "datum.p == 'br'"}], "mark": {"type": "rule", "color": "#000000", "strokeWidth": 1},
     "encoding": {"x": {"field": "x", "type": "quantitative", "axis": null}, "y": {"field": "y", "type": "quantitative", "axis": null}, "x2": {"field": "x2"}, "y2": {"field": "y2"}}},
    {"data": {"name": "arr"}, "transform": [{"filter": "datum.p == 'br' && datum.a == 'p'"}], "mark": {"type": "point", "shape": "triangle-up", "filled": true, "color": "#000000", "opacity": 1, "size": 30, "angle": 151},
     "encoding": {"x": {"field": "hx", "type": "quantitative", "axis": null}, "y": {"field": "hy", "type": "quantitative", "axis": null}}},
    {"data": {"name": "arr"}, "transform": [{"filter": "datum.p == 'br' && datum.a == 'n'"}], "mark": {"type": "point", "shape": "triangle-up", "filled": true, "color": "#000000", "opacity": 1, "size": 30, "angle": 235},
     "encoding": {"x": {"field": "hx", "type": "quantitative", "axis": null}, "y": {"field": "hy", "type": "quantitative", "axis": null}}}
   ],
   "resolve": {"axis": {"x": "independent", "y": "independent"}}}
 ]}
]
}
